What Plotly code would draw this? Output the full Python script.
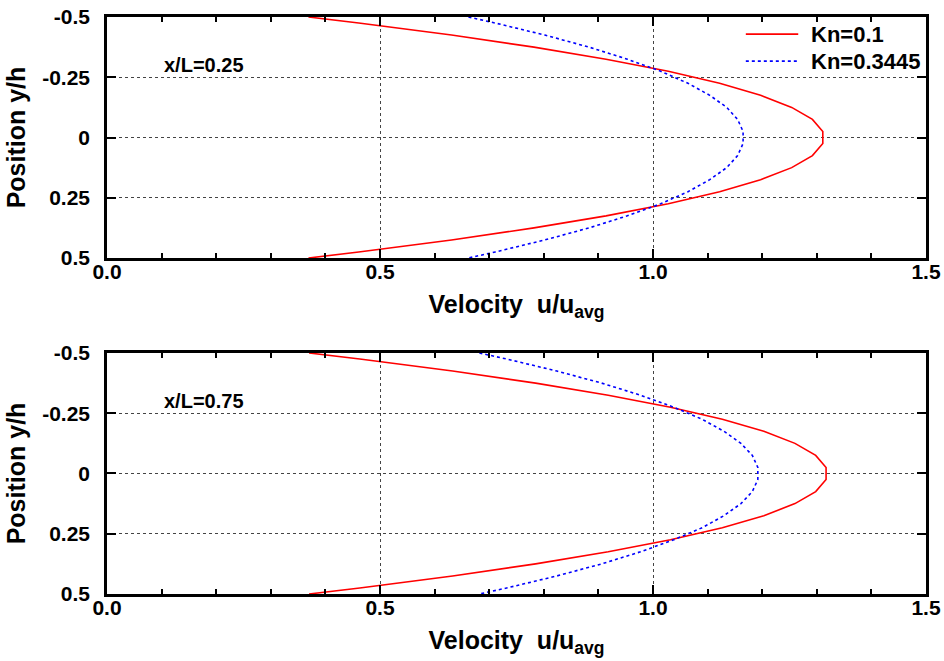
import plotly.graph_objects as go

# Transverse position across the channel (walls at +/-0.5)
y_pos = [-0.5, -0.475, -0.425, -0.375, -0.325, -0.275, -0.225, -0.175, -0.125, -0.075, -0.025,
         0.025, 0.075, 0.125, 0.175, 0.225, 0.275, 0.325, 0.375, 0.425, 0.475, 0.5]

# Normalised streamwise velocity u/u_avg at x/L = 0.25
u_kn01_x025 = [0.369, 0.461, 0.631, 0.782, 0.914, 1.028, 1.122, 1.197, 1.254, 1.292, 1.311,
               1.311, 1.292, 1.254, 1.197, 1.122, 1.028, 0.914, 0.782, 0.631, 0.461, 0.369]
u_kn03445_x025 = [0.662, 0.711, 0.802, 0.883, 0.953, 1.014, 1.064, 1.104, 1.135, 1.155, 1.165,
                  1.165, 1.155, 1.135, 1.104, 1.064, 1.014, 0.953, 0.883, 0.802, 0.711, 0.662]

# Normalised streamwise velocity u/u_avg at x/L = 0.75
u_kn01_x075 = [0.370, 0.463, 0.633, 0.785, 0.918, 1.032, 1.127, 1.203, 1.260, 1.298, 1.317,
               1.317, 1.298, 1.260, 1.203, 1.127, 1.032, 0.918, 0.785, 0.633, 0.463, 0.370]
u_kn03445_x075 = [0.682, 0.732, 0.824, 0.906, 0.977, 1.038, 1.090, 1.130, 1.161, 1.182, 1.192,
                  1.192, 1.182, 1.161, 1.130, 1.090, 1.038, 0.977, 0.906, 0.824, 0.732, 0.682]

series_names = ["Kn=0.1", "Kn=0.3445"]
panel_labels = ["x/L=0.25", "x/L=0.75"]
x_tickvals = [0.0, 0.5, 1.0, 1.5]
x_ticktext = ["0.0", "0.5", "1.0", "1.5"]
y_tickvals = [-0.5, -0.25, 0, 0.25, 0.5]
y_ticktext = ["-0.5", "-0.25", "0", "0.25", "0.5"]

FONT = "Liberation Sans, Arial, sans-serif"
RED = "#ff0000"
BLUE = "#0000ff"
series_colors = [RED, BLUE]
series_dash = ["solid", "dot"]

fig = go.Figure()

panels = [
    ("x", "y", u_kn01_x025, u_kn03445_x025),
    ("x2", "y2", u_kn01_x075, u_kn03445_x075),
]
for xa, ya, red_vals, blue_vals in panels:
    for vals, name, col, dash in zip([red_vals, blue_vals], series_names, series_colors, series_dash):
        fig.add_trace(go.Scatter(x=vals, y=y_pos, xaxis=xa, yaxis=ya, mode="lines",
                                 line=dict(color=col, width=1.6, dash=dash), name=name,
                                 showlegend=False))

tick_font = dict(family=FONT, size=21, color="black", weight=700)
title_font = dict(family=FONT, size=25, color="black", weight=700)

def x_axis(domain_anchor):
    return dict(
        anchor=domain_anchor, domain=[0, 1], range=[0, 1.5], automargin=False,
        tickvals=x_tickvals, ticktext=x_ticktext, ticks="inside", ticklen=9, tickwidth=2,
        tickcolor="black", minor=dict(dtick=0.1, tick0=0, ticks="inside", ticklen=5,
                                      tickwidth=2, tickcolor="black", showgrid=False),
        showline=True, linewidth=2.5, linecolor="black", mirror="allticks",
        showgrid=True, gridcolor="#444444", gridwidth=1, griddash="dot",
        zeroline=False, tickfont=tick_font, ticklabelstandoff=-7,
        title=dict(text="Velocity&nbsp; u/u<sub>avg</sub>", font=title_font, standoff=14),
    )

def y_axis(domain, anchor):
    return dict(
        anchor=anchor, domain=domain, range=[0.5, -0.5], automargin=False,
        tickvals=y_tickvals, ticktext=y_ticktext, ticks="inside", ticklen=9, tickwidth=2,
        tickcolor="black", showline=True, linewidth=2.5, linecolor="black", mirror="allticks",
        showgrid=True, gridcolor="#444444", gridwidth=1, griddash="dot",
        zeroline=False, tickfont=tick_font, ticklabelstandoff=10,
        title=dict(text="Position y/h", font=title_font, standoff=10),
    )

fig.update_layout(
    width=944, height=661,
    margin=dict(l=107, r=18, t=17, b=67),
    paper_bgcolor="white", plot_bgcolor="white",
    xaxis=x_axis("y"),
    yaxis=y_axis([0.5823, 1.0], "x"),
    xaxis2=x_axis("y2"),
    yaxis2=y_axis([0.0, 0.4177], "x2"),
    showlegend=False,
)

# Panel labels
for (xa, ya), label in zip([("x", "y"), ("x2", "y2")], panel_labels):
    fig.add_annotation(x=0.1, y=-0.3, xref=xa, yref=ya, text=label, showarrow=False,
                       xanchor="left", yanchor="middle",
                       font=dict(family=FONT, size=20, color="black", weight=700))

# Key in the upper panel: line samples with their labels
key_rows = [0.929, 0.817]
for name, col, dash, yk in zip(series_names, series_colors, series_dash, key_rows):
    fig.add_shape(type="line", xref="x domain", yref="y domain",
                  x0=0.780, x1=0.844, y0=yk, y1=yk,
                  line=dict(color=col, width=1.6, dash=dash))
    fig.add_annotation(x=0.857, y=yk, xref="x domain", yref="y domain", text=name,
                       showarrow=False, xanchor="left", yanchor="middle",
                       font=dict(family=FONT, size=22, color="black", weight=700))

fig.write_html("out.html")
